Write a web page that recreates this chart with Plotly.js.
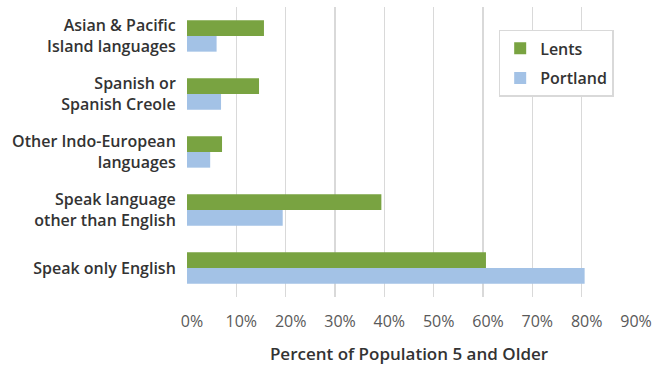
<!DOCTYPE html>
<html>
<head>
<meta charset="utf-8">
<script src="https://cdn.plot.ly/plotly-3.0.1.min.js"></script>
<style>html,body{margin:0;padding:0;background:#fff;}#chart{width:656px;height:365px;}</style>
</head>
<body>
<div id="chart"></div>
<script>
const categories = [
  "Asian & Pacific<br>Island languages",
  "Spanish or<br>Spanish Creole",
  "Other Indo-European<br>languages",
  "Speak language<br>other than English",
  "Speak only English"
];
const lents = [15.6, 14.6, 7.1, 39.4, 60.6];
const portland = [6.0, 6.9, 4.7, 19.4, 80.6];
const xTicks = [0, 10, 20, 30, 40, 50, 60, 70, 80, 90];

const font = "'Open Sans', Roboto, sans-serif";
const traces = [
  {type: "bar", orientation: "h", name: "Lents", y: categories, x: lents, legendgroup: "a",
   marker: {color: "#79a341"}, hoverinfo: "x+name"},
  {type: "bar", orientation: "h", name: "Portland", y: categories, x: portland, legendgroup: "b",
   marker: {color: "#a3c2e6"}, hoverinfo: "x+name"}
];
const layout = {
  width: 656, height: 365,
  margin: {l: 187, r: 25, t: 7, b: 68},
  paper_bgcolor: "#fff", plot_bgcolor: "#fff",
  barmode: "group", bargap: 0.46, bargroupgap: 0,
  font: {family: font, color: "#333"},
  xaxis: {
    range: [0, 90], tickvals: xTicks, ticktext: xTicks.map(v => v + "%"),
    showgrid: true, gridcolor: "#d9d9d9", gridwidth: 1.5,
    zeroline: false, showline: false,
    ticks: "outside", ticklen: 10, tickcolor: "rgba(0,0,0,0)",
    ticklabelshift: 5,
    tickfont: {family: font, size: 16, color: "#595959"},
    title: {text: "Percent of Population 5 and Older", standoff: 19,
            font: {family: font, size: 17, color: "#333", weight: 600}}
  },
  yaxis: {
    autorange: "reversed", showgrid: false, zeroline: false, showline: false,
    ticks: "outside", ticklen: 7, tickcolor: "rgba(0,0,0,0)",
    tickfont: {family: font, size: 16, color: "#333", weight: 600}
  },
  legend: {
    x: 0.702, y: 0.921, xanchor: "left", yanchor: "top",
    bgcolor: "#fff", bordercolor: "#d9d9d9", borderwidth: 1.5,
    font: {family: font, size: 16, color: "#333", weight: 600},
    traceorder: "grouped", tracegroupgap: 6
  },
  showlegend: true
};
Plotly.newPlot("chart", traces, layout, {displayModeBar: false, staticPlot: true});
</script>
</body>
</html>
